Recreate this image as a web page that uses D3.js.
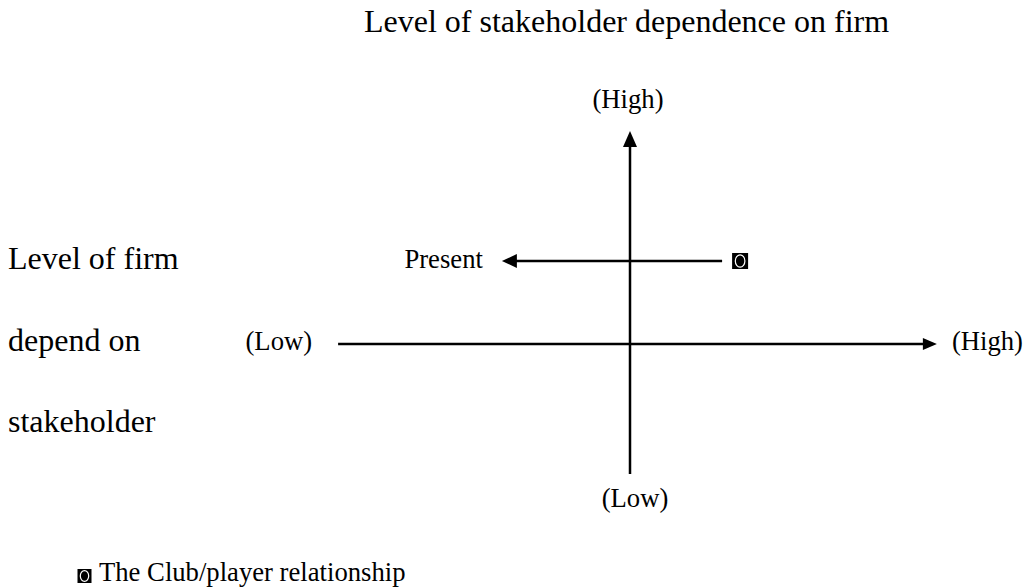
<!DOCTYPE html>
<html>
<head>
<meta charset="utf-8">
<script src="https://cdn.jsdelivr.net/npm/d3@7"></script>
<style>
  body { margin: 0; background: #fff; }
  text { font-family: "Liberation Serif", "Times New Roman", serif; fill: #000; }
</style>
</head>
<body>
<div id="chart"></div>
<script>
// axis extents, in "dependence" units (0 = neutral)
const xAxisExtent = [-0.973, 1.023]
const yAxisExtent = [-0.65, 1.065]
const xEndLabels = ['(Low)', '(High)']
const yEndLabels = ['(Low)', '(High)']

// the relationship point and where it is moving to
const points = [{ name: 'The Club/player relationship', x: 0.367, y: 0.415 }]
const movement = [{ label: 'Present', from: 0.307, to: -0.427, y: 0.415 }]

const titleTop = 'Level of stakeholder dependence on firm'
const titleLeft = ['Level of firm', 'depend on', 'stakeholder']

const width = 1026
const height = 588

const svg = d3.select('#chart')
  .append('svg')
    .attr('width', width)
    .attr('height', height)

const x = d3.scaleLinear()
  .domain([-1, 1])
  .range([330, 930])

const y = d3.scaleLinear()
  .domain([-1, 1])
  .range([544, 144])

function arrowHead(tipX, tipY, dir, len, half) {
  // dir: 'up', 'right', 'left'
  let pts
  if (dir === 'up') pts = [[tipX, tipY], [tipX - half, tipY + len], [tipX + half, tipY + len]]
  else if (dir === 'right') pts = [[tipX, tipY], [tipX - len, tipY - half], [tipX - len, tipY + half]]
  else pts = [[tipX, tipY], [tipX + len, tipY - half], [tipX + len, tipY + half]]
  svg.append('path')
    .attr('d', d3.line()(pts) + 'Z')
    .attr('fill', '#000')
}

// vertical axis
svg.append('line')
  .attr('x1', x(0)).attr('x2', x(0))
  .attr('y1', y(yAxisExtent[0])).attr('y2', y(yAxisExtent[1]) + 12)
  .attr('stroke', '#000')
  .attr('stroke-width', 2.5)
arrowHead(x(0), y(yAxisExtent[1]), 'up', 16, 7)

// horizontal axis
svg.append('line')
  .attr('x1', x(xAxisExtent[0])).attr('x2', x(xAxisExtent[1]) - 10)
  .attr('y1', y(0)).attr('y2', y(0))
  .attr('stroke', '#000')
  .attr('stroke-width', 2.5)
arrowHead(x(xAxisExtent[1]), y(0), 'right', 14, 6)

// movement arrow
movement.forEach(m => {
  svg.append('line')
    .attr('x1', x(m.from)).attr('x2', x(m.to) + 12)
    .attr('y1', y(m.y)).attr('y2', y(m.y))
    .attr('stroke', '#000')
    .attr('stroke-width', 2.5)
  arrowHead(x(m.to), y(m.y), 'left', 15, 7)
  svg.append('text')
    .attr('x', x(m.to) - 19)
    .attr('y', y(m.y) + 7)
    .attr('text-anchor', 'end')
    .attr('font-size', 26.67)
    .text(m.label)
})

function marker(g, cx, cy, size) {
  g.append('rect')
    .attr('x', cx - size / 2).attr('y', cy - size / 2)
    .attr('width', size).attr('height', size)
    .attr('fill', '#000')
  g.append('ellipse')
    .attr('cx', cx).attr('cy', cy)
    .attr('rx', size * 0.3).attr('ry', size * 0.38)
    .attr('fill', 'none')
    .attr('stroke', '#fff')
    .attr('stroke-width', 1.2)
}

points.forEach(p => marker(svg, x(p.x), y(p.y), 16))

// axis end labels
svg.append('text')
  .attr('x', x(xAxisExtent[0]) - 26).attr('y', y(0) + 6)
  .attr('text-anchor', 'end')
  .attr('font-size', 26.67)
  .text(xEndLabels[0])
svg.append('text')
  .attr('x', x(xAxisExtent[1]) + 15).attr('y', y(0) + 6)
  .attr('font-size', 26.67)
  .text(xEndLabels[1])
svg.append('text')
  .attr('x', x(0) - 2).attr('y', y(yAxisExtent[1]) - 23)
  .attr('text-anchor', 'middle')
  .attr('font-size', 26.67)
  .text(yEndLabels[1])
svg.append('text')
  .attr('x', x(0) + 5).attr('y', y(yAxisExtent[0]) + 33)
  .attr('text-anchor', 'middle')
  .attr('font-size', 26.67)
  .text(yEndLabels[0])

// titles
svg.append('text')
  .attr('x', 364).attr('y', 32)
  .attr('font-size', 32)
  .text(titleTop)

svg.append('g')
  .selectAll('text')
  .data(titleLeft)
  .join('text')
    .attr('x', 8)
    .attr('y', (d, i) => 269 + i * 81.5)
    .attr('font-size', 32)
    .text(d => d)

// legend
const legend = svg.append('g')
points.forEach(p => {
  marker(legend, 84.5, 576, 14)
  legend.append('text')
    .attr('x', 99).attr('y', 581)
    .attr('font-size', 26.67)
    .text(p.name)
})
</script>
</body>
</html>
